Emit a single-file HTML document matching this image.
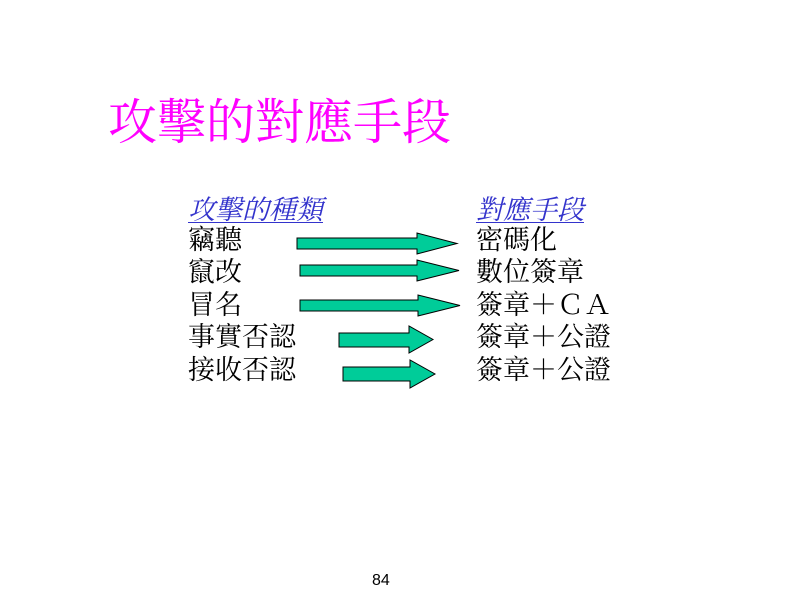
<!DOCTYPE html>
<html><head><meta charset="utf-8"><style>
body{margin:0;width:800px;height:600px;background:#fff;position:relative;overflow:hidden;font-family:"Liberation Serif","Noto Serif CJK SC","Noto Sans CJK TC",serif}
.t{position:absolute;white-space:nowrap;line-height:1}
.c{font-size:27px;color:#000}
.h{color:#3333cc;font-style:italic;text-decoration:underline;text-decoration-thickness:1px;text-underline-offset:3px}
</style></head><body>
<div class="t" style="left:108px;top:98px;font-size:49px;color:#ff00ff">攻擊的對應手段</div>
<div class="t c h" style="left:188px;top:197px">攻擊的種類</div>
<div class="t c h" style="left:476px;top:197px">對應手段</div>
<div class="t c" style="left:188px;top:227px">竊聽</div>
<div class="t c" style="left:188px;top:259px">竄改</div>
<div class="t c" style="left:188px;top:292px">冒名</div>
<div class="t c" style="left:188px;top:324px">事實否認</div>
<div class="t c" style="left:188px;top:357px">接收否認</div>
<div class="t c" style="left:476px;top:227px">密碼化</div>
<div class="t c" style="left:476px;top:259px">數位簽章</div>
<div class="t c" style="left:476px;top:292px">簽章＋ＣＡ</div>
<div class="t c" style="left:476px;top:324px">簽章＋公證</div>
<div class="t c" style="left:476px;top:357px">簽章＋公證</div>
<svg width="800" height="600" style="position:absolute;left:0;top:0">
<g fill="#00cc99" stroke="#000" stroke-width="1">
<polygon points="297,238 417,238 417,233 457,243.5 417,254 417,249 297,249"/>
<polygon points="300,265 417,265 417,260 459,270.5 417,281 417,276 300,276"/>
<polygon points="300,300 418,300 418,295 460,305.5 418,316 418,311 300,311"/>
<polygon points="339,333 409,333 409,326 433,339.5 409,353 409,347 339,347"/>
<polygon points="343,367 410,367 410,360 435,374 410,388 410,381 343,381"/>
</g></svg>
<div class="t" style="left:372px;top:573px;font-size:16px;font-family:'Liberation Sans',sans-serif">84</div>
</body></html>
